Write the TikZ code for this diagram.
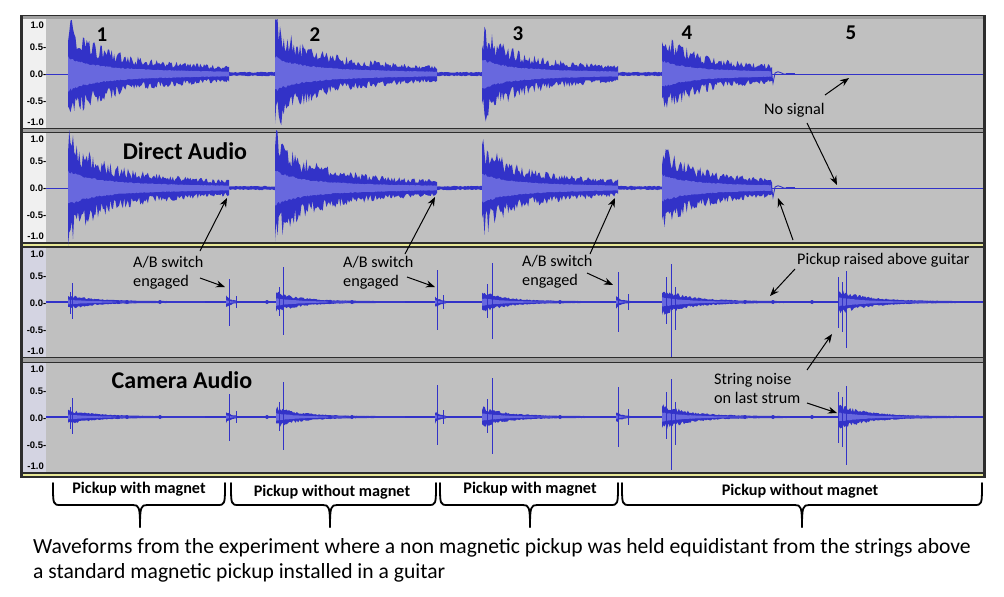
\documentclass[tikz,border=0pt]{standalone}
\usepackage{fontspec}
\setmainfont{Carlito}
\newfontfamily\axfont{Liberation Sans}
\usetikzlibrary{arrows.meta}
\definecolor{wd}{RGB}{50,50,200}
\definecolor{wl}{RGB}{104,104,222}
\definecolor{bgw}{RGB}{192,192,192}
\definecolor{axA}{RGB}{240,240,240}
\definecolor{axB}{RGB}{212,212,226}
\definecolor{sepg}{RGB}{160,160,160}
\definecolor{yel}{RGB}{232,232,150}
\definecolor{frm}{RGB}{45,45,45}
\tikzset{
  declare function={denv(\d,\a)=\a*(0.55*exp(-\d/22)+0.45*exp(-\d/120));},
  axl/.style={anchor=east, inner sep=0pt, font=\axfont\fontsize{9.5}{10}\selectfont\bfseries},
  numlab/.style={inner sep=0pt, font=\fontsize{21}{21}\selectfont\bfseries},
  ttl/.style={inner sep=0pt, font=\fontsize{24}{24}\selectfont\bfseries},
  note/.style={inner sep=0pt, align=left, anchor=west, font=\fontsize{16.2}{19}\selectfont},
  arr/.style={-{Stealth[length=9pt,width=7pt]}, line width=1pt, black},
  bracepath/.style={line width=1.8pt, black, line cap=round, line join=round},
  brlab/.style={inner sep=0pt, font=\fontsize{16.2}{16}\selectfont\bfseries},
  capt/.style={inner sep=0pt, align=left, anchor=west, font=\fontsize{21.6}{25}\selectfont},
  spike/.style={wd, line width=1pt},
}
% direct-audio strum: x0 x1 y0 A samples
\newcommand\dstrum[5]{%
  \fill[wd] plot[domain=#1:#2, samples=#5] (\x,{#3-(denv(\x-#1,#4)*(0.55+0.7*rnd)+1.2)})
     -- plot[domain=#2:#1, samples=#5] (\x,{#3+(denv(\x-#1,#4)*(0.55+0.7*rnd)+1.2)}) -- cycle;
  \fill[wl] plot[domain=#1:#2, samples=#5] (\x,{#3-(0.34*denv(\x-#1,#4)*(0.9+0.2*rnd)+0.4)})
     -- plot[domain=#2:#1, samples=#5] (\x,{#3+(0.34*denv(\x-#1,#4)*(0.9+0.2*rnd)+0.4)}) -- cycle;
}
\newcommand\dtail[3]{%
  \fill[wd] plot[domain=#1:#2, samples=30] (\x,{#3-(1.2+1.0*rnd)})
     -- plot[domain=#2:#1, samples=30] (\x,{#3+(1.2+1.0*rnd)}) -- cycle;
}
\newcommand\dirch[1]{%
  \draw[wd, line width=0.8pt] (46,#1) -- (983,#1);
  \dstrum{68}{229}{#1}{48}{130}
  \dtail{229}{275}{#1}
  \dstrum{275}{437}{#1}{48}{130}
  \dtail{437}{482}{#1}
  \dstrum{482}{618}{#1}{41}{110}
  \dtail{618}{662}{#1}
  \dstrum{662}{772}{#1}{37}{90}
  \draw[wd, line width=0.9pt] (771,#1-5) -- (773,#1+9) -- (775,#1-1) .. controls (779,#1-5) and (783,#1+2) .. (787,#1);
  \draw[wd, line width=1.5pt] (786,#1) -- (795,#1);
}
% camera blob: x0 x1 y0 A tau samples
\newcommand\cblob[6]{%
  \fill[wd] plot[domain=#1:#2, samples=#6] (\x,{#3-(#4*exp(-(\x-#1)/#5)*(0.6+0.6*rnd)+0.8)})
     -- plot[domain=#2:#1, samples=#6] (\x,{#3+(#4*exp(-(\x-#1)/#5)*(0.6+0.6*rnd)+0.8)}) -- cycle;
  \fill[wl] plot[domain=#1:#2, samples=#6] (\x,{#3-(0.4*#4*exp(-(\x-#1)/#5)*(0.9+0.2*rnd))})
     -- plot[domain=#2:#1, samples=#6] (\x,{#3+(0.4*#4*exp(-(\x-#1)/#5)*(0.9+0.2*rnd))}) -- cycle;
}
\newcommand\camch[3]{% y0, strum4 down, strum5 down
  \draw[wd, line width=1.6pt] (46,#1) -- (983,#1);
  \cblob{68}{205}{#1}{6}{28}{100}
  \cblob{276}{405}{#1}{9}{26}{100}
  \cblob{482}{600}{#1}{9}{26}{90}
  \cblob{662}{790}{#1}{11}{30}{100}
  \cblob{838}{960}{#1}{11}{30}{100}
  \cblob{226}{236}{#1}{5}{5}{10}
  \cblob{435}{446}{#1}{5}{5}{10}
  \cblob{616}{630}{#1}{5}{5}{10}
  \foreach \sx/\su/\sd in {70/10/12,72/19/17,229/23/24,236/6/6,279/15/14,283/35/33,
      437/32/28,443/7/7,487/18/16,492/39/37,618/30/30,628/8/8,666/25/22,675/15/28,
      838/25/26,842/20/30}
    {\draw[spike] (\sx,#1-\su) -- (\sx,#1+\sd);}
  \draw[spike] (671,#1-38) -- (671,#1+#2);
  \draw[spike] (846,#1-31) -- (846,#1+#3);
  \foreach \dx in {118,127,160,267,330,352,560,745,773,812}
    {\fill[wd] (\dx,#1) ellipse (1.8 and 2);}
}
\newcommand\axlabels[3]{% top y, name prefix, colour
  \fill[#3] (23,#1) rectangle (46,#1+109);
  \node[axl] (#2a) at (44,#1+6) {1.0};
  \node[axl] (#2b) at (46.5,#1+28) {0.5-};
  \node[axl] (#2c) at (46.5,#1+55) {0.0-};
  \node[axl] (#2d) at (46.5,#1+82) {-0.5-};
  \node[axl] (#2e) at (44,#1+103) {-1.0};
}
\newcommand\curly[3]{% left, middle, right
  \draw[bracepath] (#1,483) .. controls (#1,505) and (#1,505) .. (#1+8,505) -- (#2-7,505)
     .. controls (#2-1,505) and (#2,507) .. (#2,527);
  \draw[bracepath] (#3,483) .. controls (#3,505) and (#3,505) .. (#3-8,505) -- (#2+7,505)
     .. controls (#2+1,505) and (#2,507) .. (#2,527);
}
\begin{document}
\begin{tikzpicture}[x=1pt,y=-1pt]
\useasboundingbox (0,0) rectangle (1004,597);
\fill[white] (0,0) rectangle (1004,597);
\pgfmathsetseed{7}
% frame
\fill[frm] (20,14.5) rectangle (985.5,478);
\fill[sepg] (23,16) rectangle (983,18.5);
\fill[bgw] (46,19) rectangle (983,128);
\fill[sepg] (23,129) rectangle (983,132.2);
\fill[bgw] (46,133.2) rectangle (983,242);
\fill[yel] (23,244) rectangle (983,246);
\fill[bgw] (46,248) rectangle (983,357);
\fill[sepg] (23,358) rectangle (983,362);
\fill[bgw] (46,363) rectangle (983,472);
\fill[yel] (23,473.5) rectangle (983,475.5);
\axlabels{19}{da}{axA}
\axlabels{133.2}{db}{axA}
\axlabels{248}{ca}{axB}
\axlabels{363}{cb}{axB}
% waveforms
\begin{scope}
\clip (46,19) rectangle (983,472);
\dirch{74}
\dirch{188}
\camch{302}{55}{46}
\camch{417}{53}{48}
\end{scope}
% labels
\node[numlab] (n1) at (102,35) {1};
\node[numlab] (n2) at (315,35) {2};
\node[numlab] (n3) at (518,34) {3};
\node[numlab] (n4) at (687,33) {4};
\node[numlab] (n5) at (851,33) {5};
\node[ttl] (direct) at (185,151) {Direct Audio};
\node[ttl] (camera) at (182,380) {Camera Audio};
\node[note] (nosig) at (764,110) {No signal};
\node[note] (ab1) at (133,272.5) {A/B switch\\engaged};
\node[note] (ab2) at (343,272.5) {A/B switch\\engaged};
\node[note] (ab3) at (522,271.5) {A/B switch\\engaged};
\node[note] (raised) at (797,260) {Pickup raised above guitar};
\node[note] (strn) at (714,388.5) {String noise\\on last strum};
% arrow coordinates
\coordinate (s1) at (200,251); \coordinate (t1) at (227,198);
\coordinate (s2) at (200,278); \coordinate (t2) at (225,287);
\coordinate (s3) at (405,254); \coordinate (t3) at (435,197);
\coordinate (s4) at (407,277); \coordinate (t4) at (435,287);
\coordinate (s5) at (590,254); \coordinate (t5) at (615,198);
\coordinate (s6) at (587,273); \coordinate (t6) at (613,285);
\coordinate (s7) at (793,240); \coordinate (t7) at (778,198);
\coordinate (s8) at (825,95);  \coordinate (t8) at (849,78);
\coordinate (s9) at (807,123); \coordinate (t9) at (837,185);
\coordinate (s10) at (795,269); \coordinate (t10) at (770,296);
\coordinate (s11) at (807,370); \coordinate (t11) at (832,334);
\coordinate (s12) at (807,403); \coordinate (t12) at (837,413);
\foreach \i in {1,...,12} {\draw[arr] (s\i) -- (t\i);}
% braces
\curly{53}{140}{225}
\curly{231}{330}{436}
\curly{440}{530}{618}
\curly{622}{802}{982}
\node[brlab] (b1) at (139,489) {Pickup with magnet};
\node[brlab] (b2) at (332,492) {Pickup without magnet};
\node[brlab] (b3) at (530,489) {Pickup with magnet};
\node[brlab] (b4) at (800,491) {Pickup without magnet};
\node[capt] (cap) at (33,560.5) {Waveforms from the experiment where a non magnetic pickup was held equidistant from the strings above\\a standard magnetic pickup installed in a guitar};
\end{tikzpicture}
\end{document}
